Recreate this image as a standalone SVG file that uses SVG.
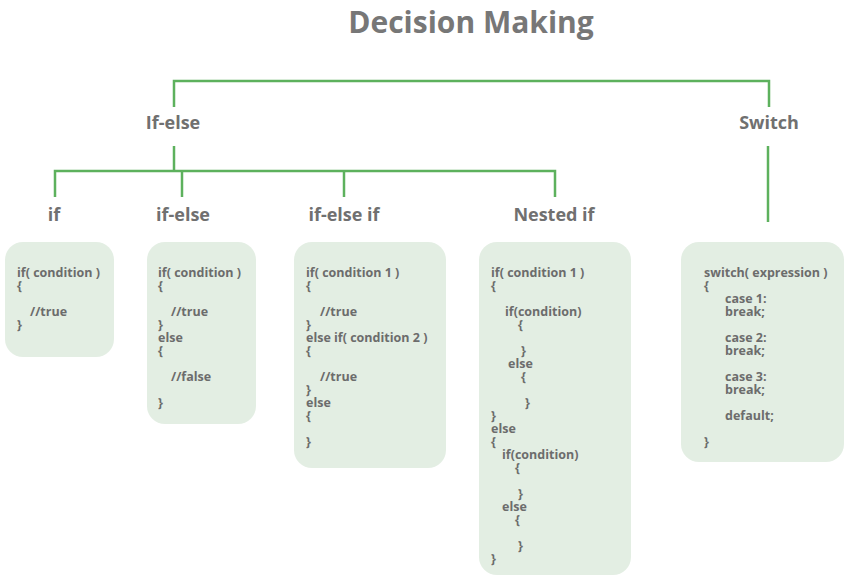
<svg xmlns="http://www.w3.org/2000/svg" width="851" height="580" viewBox="0 0 851 580">
<style>
.bg{fill:#ffffff}
.title{font-family:"Open Sans","Liberation Sans",sans-serif;font-weight:700;font-size:30px;fill:#777777;text-anchor:middle}
.lbl{font-family:"Open Sans","Liberation Sans",sans-serif;font-weight:700;font-size:18px;fill:#707070;text-anchor:middle}
.box{fill:#e3eee3}
.code{font-family:"Open Sans","Liberation Sans",sans-serif;font-weight:700;font-size:12.5px;fill:#6c6c6c}
.ln{fill:none;stroke:#5db15d;stroke-width:2.5}
</style>
<rect class="bg" width="851" height="580"/>
<text class="title" x="471" y="33">Decision Making</text>
<g id="connectors">
<path class="ln" d="M174,107 V81 H769 V107"/>
<path class="ln" d="M768,146 V222"/>
<path class="ln" d="M174,146 V171"/>
<path class="ln" d="M55,197 V171 H555 V197"/>
<path class="ln" d="M182,171 V197"/>
<path class="ln" d="M344,171 V197"/>
</g>
<g id="node-ifelse-group"><text class="lbl" x="173" y="129">If-else</text></g>
<g id="node-switch"><text class="lbl" x="769" y="129">Switch</text></g>
<g id="node-if">
<text class="lbl" x="54" y="221">if</text>
<rect class="box" x="5" y="242" width="109" height="115" rx="18"/>
<text class="code" x="17" y="277">if( condition )</text>
<text class="code" x="17" y="290">{</text>
<text class="code" x="30" y="316">//true</text>
<text class="code" x="17" y="329">}</text>
</g>
<g id="node-if-else">
<text class="lbl" x="183" y="221">if-else</text>
<rect class="box" x="147" y="242" width="109" height="182" rx="18"/>
<text class="code" x="158" y="277">if( condition )</text>
<text class="code" x="158" y="290">{</text>
<text class="code" x="171" y="316">//true</text>
<text class="code" x="158" y="329">}</text>
<text class="code" x="158" y="342">else</text>
<text class="code" x="158" y="355">{</text>
<text class="code" x="171" y="381">//false</text>
<text class="code" x="158" y="407">}</text>
</g>
<g id="node-if-else-if">
<text class="lbl" x="344" y="221">if-else if</text>
<rect class="box" x="294" y="242" width="152" height="226" rx="18"/>
<text class="code" x="306" y="277">if( condition 1 )</text>
<text class="code" x="306" y="290">{</text>
<text class="code" x="320" y="316">//true</text>
<text class="code" x="306" y="329">}</text>
<text class="code" x="306" y="342">else if( condition 2 )</text>
<text class="code" x="306" y="355">{</text>
<text class="code" x="320" y="381">//true</text>
<text class="code" x="306" y="394">}</text>
<text class="code" x="306" y="407">else</text>
<text class="code" x="306" y="420">{</text>
<text class="code" x="306" y="446">}</text>
</g>
<g id="node-nested-if">
<text class="lbl" x="554" y="221">Nested if</text>
<rect class="box" x="479" y="242" width="152" height="333" rx="18"/>
<text class="code" x="491" y="277">if( condition 1 )</text>
<text class="code" x="491" y="290">{</text>
<text class="code" x="505" y="316">if(condition)</text>
<text class="code" x="518" y="329">{</text>
<text class="code" x="521" y="355">}</text>
<text class="code" x="508" y="368">else</text>
<text class="code" x="521" y="381">{</text>
<text class="code" x="525" y="407">}</text>
<text class="code" x="491" y="420">}</text>
<text class="code" x="491" y="433">else</text>
<text class="code" x="491" y="446">{</text>
<text class="code" x="502" y="459">if(condition)</text>
<text class="code" x="515" y="472">{</text>
<text class="code" x="518" y="498">}</text>
<text class="code" x="502" y="511">else</text>
<text class="code" x="515" y="524">{</text>
<text class="code" x="518" y="550">}</text>
<text class="code" x="491" y="563">}</text>
</g>
<g id="node-switch-code">
<rect class="box" x="681" y="242" width="163" height="220" rx="18"/>
<text class="code" x="704" y="277">switch( expression )</text>
<text class="code" x="704" y="290">{</text>
<text class="code" x="725" y="303">case 1:</text>
<text class="code" x="725" y="316">break;</text>
<text class="code" x="725" y="342">case 2:</text>
<text class="code" x="725" y="355">break;</text>
<text class="code" x="725" y="381">case 3:</text>
<text class="code" x="725" y="394">break;</text>
<text class="code" x="725" y="420">default;</text>
<text class="code" x="704" y="446">}</text>
</g>
</svg>
